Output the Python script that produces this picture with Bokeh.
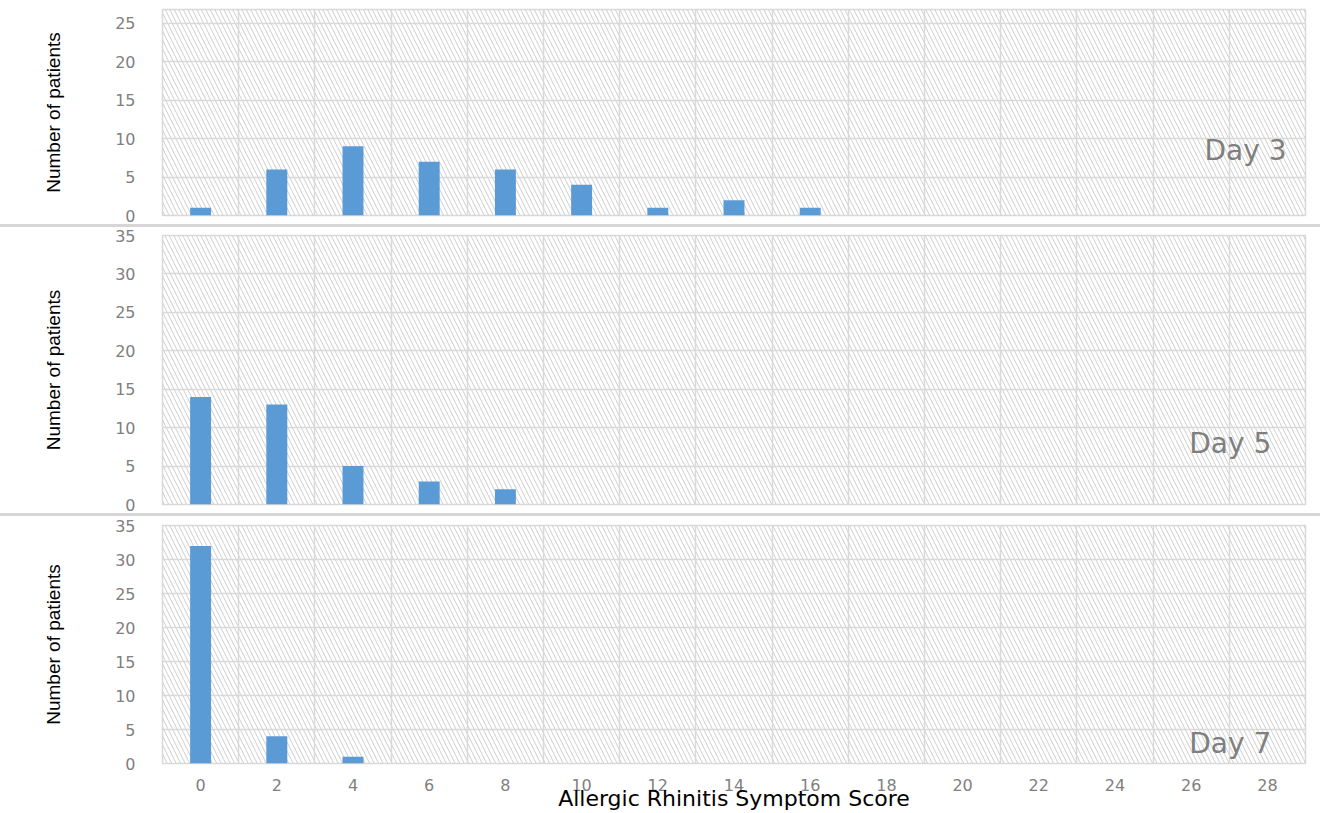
from bokeh.plotting import figure
from bokeh.models import FixedTicker, Range1d, Label, Div, ColumnDataSource
from bokeh.layouts import column
from bokeh.embed import file_html
from bokeh.resources import INLINE

scores = [0, 2, 4, 6, 8, 10, 12, 14, 16, 18, 20, 22, 24, 26, 28]
day3 = [1, 6, 9, 7, 6, 4, 1, 2, 1, 0, 0, 0, 0, 0, 0]
day5 = [14, 13, 5, 3, 2, 0, 0, 0, 0, 0, 0, 0, 0, 0, 0]
day7 = [32, 4, 1, 0, 0, 0, 0, 0, 0, 0, 0, 0, 0, 0, 0]
panel_names = ["Day 3", "Day 5", "Day 7"]
y_ticks_top = [0, 5, 10, 15, 20, 25]
y_ticks = [0, 5, 10, 15, 20, 25, 30, 35]

BAR = "#5B9BD5"
GRID = "#d9d9d9"
TICK = "#808080"
W = 1312


def panel(values, name, ymax, yticks, height, top, bottom, label_x, label_y, show_x):
    p = figure(width=W, height=height, output_backend="svg", toolbar_location=None,
               x_range=Range1d(-1, 29), y_range=Range1d(0, ymax),
               min_border_left=162, min_border_right=7,
               min_border_top=top, min_border_bottom=bottom)
    p.background_fill_color = "white"
    p.border_fill_color = "white"
    p.outline_line_color = GRID
    p.outline_line_width = 1.5
    # hatched plot area
    p.quad(left=[-1], right=[29], bottom=[0], top=[ymax], fill_alpha=0, line_color=None,
           hatch_pattern="left_diagonal_line", hatch_color="#cdcdcd", hatch_scale=9,
           hatch_weight=1, level="image")
    src = ColumnDataSource(dict(x=scores, top=values))
    p.vbar(x="x", top="top", width=0.55, source=src, fill_color=BAR, line_color=None)

    p.xaxis.ticker = FixedTicker(ticks=scores)
    p.xgrid.ticker = FixedTicker(ticks=[s + 1 for s in scores[:-1]])
    p.yaxis.ticker = FixedTicker(ticks=yticks)
    p.xgrid.grid_line_color = GRID
    p.ygrid.grid_line_color = GRID
    p.xgrid.grid_line_width = 1.5
    p.ygrid.grid_line_width = 1.5

    p.yaxis.axis_line_color = None
    p.yaxis.major_tick_line_color = None
    p.yaxis.minor_tick_line_color = None
    p.yaxis.major_label_standoff = 21
    p.yaxis.major_label_text_font = "DejaVu Sans"
    p.yaxis.major_label_text_font_size = "16px"
    p.yaxis.major_label_text_color = TICK
    p.yaxis.axis_label = "Number of patients"
    p.yaxis.axis_label_text_font = "Liberation Sans"
    p.yaxis.axis_label_text_font_style = "normal"
    p.yaxis.axis_label_text_font_size = "19px"
    p.yaxis.axis_label_text_color = "black"
    p.yaxis.axis_label_standoff = 48

    if show_x:
        p.xaxis.axis_line_color = None
        p.xaxis.major_tick_line_color = None
        p.xaxis.minor_tick_line_color = None
        p.xaxis.major_label_standoff = 9
        p.xaxis.major_label_text_font = "DejaVu Sans"
        p.xaxis.major_label_text_font_size = "16px"
        p.xaxis.major_label_text_color = TICK
        p.xaxis.axis_label = "Allergic Rhinitis Symptom Score"
        p.xaxis.axis_label_text_font = "DejaVu Sans"
        p.xaxis.axis_label_text_font_style = "normal"
        p.xaxis.axis_label_text_font_size = "22px"
        p.xaxis.axis_label_text_color = "black"
        p.xaxis.axis_label_standoff = -8
    else:
        p.xaxis.visible = False

    p.add_layout(Label(x=label_x, y=label_y, text=name, text_align="right",
                       text_baseline="alphabetic", text_font="DejaVu Sans",
                       text_font_size="28px", text_color="#7f7f7f"))
    return p


def sep():
    return Div(width=1320, height=3, margin=(0, 0, 0, 0),
               styles={"background-color": "#d6d6d6"})


p1 = panel(day3, panel_names[0], 26.8, y_ticks_top, 224, 9, 9, 28.5, 8.4, False)
p2 = panel(day5, panel_names[1], 35, y_ticks, 286, 8, 9, 28.1, 8.0, False)
p3 = panel(day7, panel_names[2], 35, y_ticks, 297, 9, 48, 28.1, 2.9, True)

layout = column(p1, sep(), p2, sep(), p3, spacing=0)
open("out.html", "w").write(file_html(layout, INLINE))
